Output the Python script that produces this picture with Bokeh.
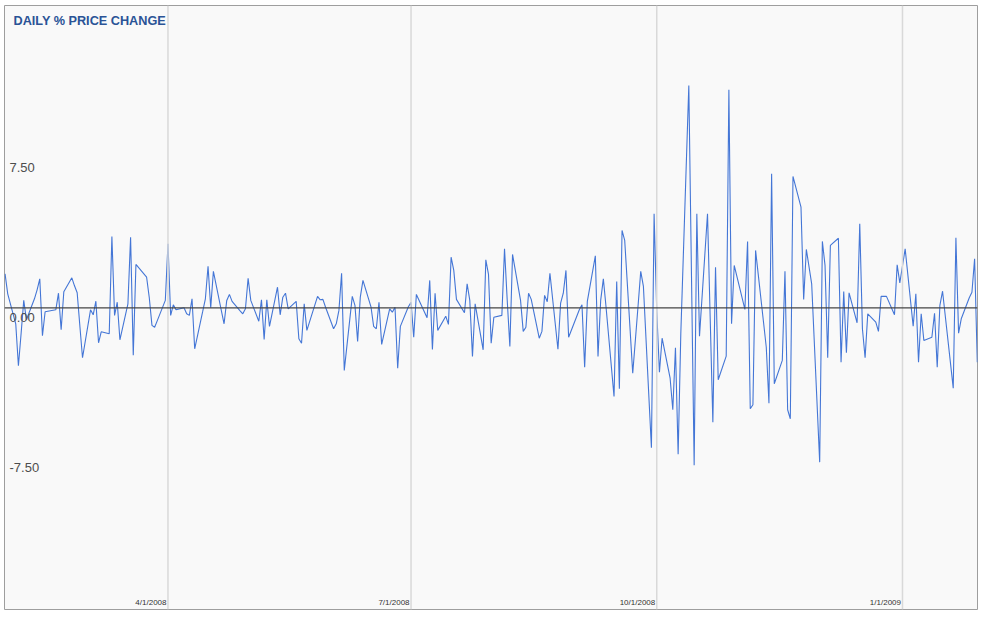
import pandas as pd
from bokeh.plotting import figure
from bokeh.models import ColumnDataSource, Span, Range1d
from bokeh.core.properties import value
from bokeh.embed import file_html
from bokeh.resources import INLINE

# ---------------- data ----------------
dates = [
    "2008-01-31", "2008-02-01", "2008-02-04", "2008-02-05", "2008-02-06", "2008-02-07", "2008-02-08",
    "2008-02-11", "2008-02-12", "2008-02-13", "2008-02-14", "2008-02-15", "2008-02-19", "2008-02-20",
    "2008-02-21", "2008-02-22", "2008-02-25", "2008-02-26", "2008-02-27", "2008-02-28", "2008-02-29",
    "2008-03-03", "2008-03-04", "2008-03-05", "2008-03-06", "2008-03-07", "2008-03-10", "2008-03-11",
    "2008-03-12", "2008-03-13", "2008-03-14", "2008-03-17", "2008-03-18", "2008-03-19", "2008-03-20",
    "2008-03-24", "2008-03-25", "2008-03-26", "2008-03-27", "2008-03-28", "2008-03-31", "2008-04-01",
    "2008-04-02", "2008-04-03", "2008-04-04", "2008-04-07", "2008-04-08", "2008-04-09", "2008-04-10",
    "2008-04-11", "2008-04-14", "2008-04-15", "2008-04-16", "2008-04-17", "2008-04-18", "2008-04-21",
    "2008-04-22", "2008-04-23", "2008-04-24", "2008-04-25", "2008-04-28", "2008-04-29", "2008-04-30",
    "2008-05-01", "2008-05-02", "2008-05-05", "2008-05-06", "2008-05-07", "2008-05-08", "2008-05-09",
    "2008-05-12", "2008-05-13", "2008-05-14", "2008-05-15", "2008-05-16", "2008-05-19", "2008-05-20",
    "2008-05-21", "2008-05-22", "2008-05-23", "2008-05-27", "2008-05-28", "2008-05-29", "2008-05-30",
    "2008-06-02", "2008-06-03", "2008-06-04", "2008-06-05", "2008-06-06", "2008-06-09", "2008-06-10",
    "2008-06-11", "2008-06-12", "2008-06-13", "2008-06-16", "2008-06-17", "2008-06-18", "2008-06-19",
    "2008-06-20", "2008-06-23", "2008-06-24", "2008-06-25", "2008-06-26", "2008-06-27", "2008-06-30",
    "2008-07-01", "2008-07-02", "2008-07-03", "2008-07-07", "2008-07-08", "2008-07-09", "2008-07-10",
    "2008-07-11", "2008-07-14", "2008-07-15", "2008-07-16", "2008-07-17", "2008-07-18", "2008-07-21",
    "2008-07-22", "2008-07-23", "2008-07-24", "2008-07-25", "2008-07-28", "2008-07-29", "2008-07-30",
    "2008-07-31", "2008-08-01", "2008-08-04", "2008-08-05", "2008-08-06", "2008-08-07", "2008-08-08",
    "2008-08-11", "2008-08-12", "2008-08-13", "2008-08-14", "2008-08-15", "2008-08-18", "2008-08-19",
    "2008-08-20", "2008-08-21", "2008-08-22", "2008-08-25", "2008-08-26", "2008-08-27", "2008-08-28",
    "2008-08-29", "2008-09-02", "2008-09-03", "2008-09-04", "2008-09-05", "2008-09-08", "2008-09-09",
    "2008-09-10", "2008-09-11", "2008-09-12", "2008-09-15", "2008-09-16", "2008-09-17", "2008-09-18",
    "2008-09-19", "2008-09-22", "2008-09-23", "2008-09-24", "2008-09-25", "2008-09-26", "2008-09-29",
    "2008-09-30", "2008-10-01", "2008-10-02", "2008-10-03", "2008-10-06", "2008-10-07", "2008-10-08",
    "2008-10-09", "2008-10-10", "2008-10-13", "2008-10-14", "2008-10-15", "2008-10-16", "2008-10-17",
    "2008-10-20", "2008-10-21", "2008-10-22", "2008-10-23", "2008-10-24", "2008-10-27", "2008-10-28",
    "2008-10-29", "2008-10-30", "2008-10-31", "2008-11-03", "2008-11-04", "2008-11-05", "2008-11-06",
    "2008-11-07", "2008-11-10", "2008-11-11", "2008-11-12", "2008-11-13", "2008-11-14", "2008-11-17",
    "2008-11-18", "2008-11-19", "2008-11-20", "2008-11-21", "2008-11-24", "2008-11-25", "2008-11-26",
    "2008-11-28", "2008-12-01", "2008-12-02", "2008-12-03", "2008-12-04", "2008-12-05", "2008-12-08",
    "2008-12-09", "2008-12-10", "2008-12-11", "2008-12-12", "2008-12-15", "2008-12-16", "2008-12-17",
    "2008-12-18", "2008-12-19", "2008-12-22", "2008-12-23", "2008-12-24", "2008-12-26", "2008-12-29",
    "2008-12-30", "2008-12-31", "2009-01-02", "2009-01-05", "2009-01-06", "2009-01-07", "2009-01-08",
    "2009-01-09", "2009-01-12", "2009-01-13", "2009-01-14", "2009-01-15", "2009-01-16", "2009-01-20",
    "2009-01-21", "2009-01-22", "2009-01-23", "2009-01-26", "2009-01-27", "2009-01-28", "2009-01-29",
]

pct_change = [
    1.70, 0.70, -0.80, -2.90, -1.30, 0.37, -0.60,
    0.45, 0.90, 1.45, -1.40, -0.20, -0.10, 0.73,
    -1.10, 0.80, 1.50, 1.10, 0.75, -0.90, -2.50,
    -0.10, -0.35, 0.33, -1.75, -1.20, -1.30, 3.57,
    -0.38, 0.28, -1.60, 0.20, 3.53, -2.37, 2.17,
    1.53, 0.50, -0.88, -0.97, -0.64, 0.37, 3.20,
    -0.38, 0.15, -0.10, 0.00, -0.30, -0.38, 0.45,
    -2.05, -0.18, 0.45, 2.08, 0.00, 1.82, -0.15,
    -0.80, 0.37, 0.67, 0.32, -0.15, -0.30, -0.05,
    1.48, 0.37, -0.67, 0.40, -1.58, 0.40, -0.93,
    1.03, -0.35, 0.53, 0.73, -0.05, 0.32, -1.55,
    -1.77, 0.20, -1.13, 0.57, 0.40, 0.42, 0.03,
    -1.05, -0.80, -0.13, 1.73, -3.13, 0.57, 0.12,
    -1.68, 0.53, 1.37, 0.05, -0.93, -1.05, 0.28,
    -1.83, -0.05, -0.22, 0.03, -3.02, -0.93, 0.05,
    0.27, -1.47, 0.67, -0.50, 1.37, -2.08, 0.73,
    -1.13, -0.42, -0.83, 2.53, 1.87, 0.42, -0.25,
    1.20, 0.37, -2.43, 0.20, -2.10, 2.40, 1.67,
    -1.77, -0.47, -0.38, 2.95, 0.40, -1.93, 2.67,
    0.37, -1.18, -0.97, 0.73, 0.42, -1.52, -1.18,
    0.62, 0.30, 1.73, -2.07, 0.23, 0.73, 1.87,
    -1.47, -0.10, 0.15, -2.97, 0.32, 2.60, -2.43,
    0.37, 1.45, 0.05, -4.43, 1.32, -4.05, 3.87,
    3.37, -3.27, -1.60, 0.10, 1.82, 1.07, -7.00,
    4.70, -0.20, -3.22, -1.52, -3.52, -5.10, -2.00,
    -7.33, -1.30, 11.12, 1.60, -7.88, 4.70, -1.42,
    4.70, -0.50, -5.72, 2.03, -3.60, -2.42, 10.90,
    -0.80, 2.12, 1.57, -0.08, 3.32, -5.05, -4.85,
    2.87, -0.76, -1.97, -4.77, 6.70, -3.80, -2.63,
    1.83, -5.10, -5.55, 6.57, 5.03, 0.42, 2.92,
    1.20, -7.72, 3.32, 2.12, -2.50, 3.12, 3.48,
    -2.72, 0.82, -2.25, 0.75, -0.75, 4.20, -1.05,
    -2.50, -0.30, -0.72, -1.18, 0.58, 0.57, -0.35,
    2.15, 1.25, 2.95, -0.92, 0.70, -2.72, -0.30,
    -1.63, -1.47, -0.27, -2.97, 0.12, 0.83, -4.02,
    3.50, -1.27, -0.55, 0.50, 0.78, 2.45, -2.72,
]

x_tick_dates = ["2008-04-01", "2008-07-01", "2008-10-01", "2009-01-01"]
x_tick_labels = ["4/1/2008", "7/1/2008", "10/1/2008", "1/1/2009"]
y_tick_values = [7.5, 0.0, -7.5]
y_tick_labels = ["7.50", "0.00", "-7.50"]
title_text = "DAILY % PRICE CHANGE"

# ---------------- figure ----------------
x_start = pd.Timestamp("2008-01-30 19:00")
x_end = pd.Timestamp("2009-01-29 02:00")
y_lo, y_hi = -15.09, 15.12

p = figure(
    width=983, height=617,
    x_axis_type="datetime",
    x_range=Range1d(x_start, x_end),
    y_range=Range1d(y_lo, y_hi),
    x_axis_location=None, y_axis_location=None,
    toolbar_location=None, output_backend="svg",
    min_border_left=4, min_border_right=6, min_border_top=5, min_border_bottom=8,
    background_fill_color="#f9f9f9", border_fill_color="#ffffff",
    outline_line_color="#9e9e9e", outline_line_width=1,
)
p.margin = (0, 0, 0, 0)
p.grid.visible = False

# vertical grid lines at the date ticks
for d in x_tick_dates:
    ms = pd.Timestamp(d).value / 1e6
    p.add_layout(Span(location=ms, dimension="height", line_color="#d9d9d9", line_width=1.5))

# zero baseline
p.add_layout(Span(location=0, dimension="width", line_color="#444444", line_width=1.2))

# data line
src = ColumnDataSource(dict(date=pd.to_datetime(dates), pct=pct_change))
p.line("date", "pct", source=src, line_color="#4476d6", line_width=1.1)

# y labels (inside plot, just below their value)
ysrc = ColumnDataSource(dict(x=[x_start] * len(y_tick_values), y=y_tick_values, t=y_tick_labels))
p.text("x", "y", text="t", source=ysrc, x_offset=5, y_offset=10,
       text_font=value("Liberation Sans"), text_font_size="13px", text_color="#4d4d4d",
       text_align="left", text_baseline="middle")

# x labels (inside plot, bottom, right-aligned to gridline)
xsrc = ColumnDataSource(dict(x=pd.to_datetime(x_tick_dates), y=[y_lo] * len(x_tick_dates), t=x_tick_labels))
p.text("x", "y", text="t", source=xsrc, x_offset=-1.5, y_offset=-7,
       text_font=value("Liberation Sans"), text_font_size="8px", text_color="#333333",
       text_align="right", text_baseline="middle")

# title inside the plot
tsrc = ColumnDataSource(dict(x=[x_start], y=[y_hi], t=[title_text]))
p.text("x", "y", text="t", source=tsrc, x_offset=9, y_offset=15,
       text_font=value("Liberation Sans"), text_font_style="bold", text_font_size="12.7px",
       text_color="#2a5396", text_align="left", text_baseline="middle")

open("out.html", "w").write(file_html(p, INLINE))
